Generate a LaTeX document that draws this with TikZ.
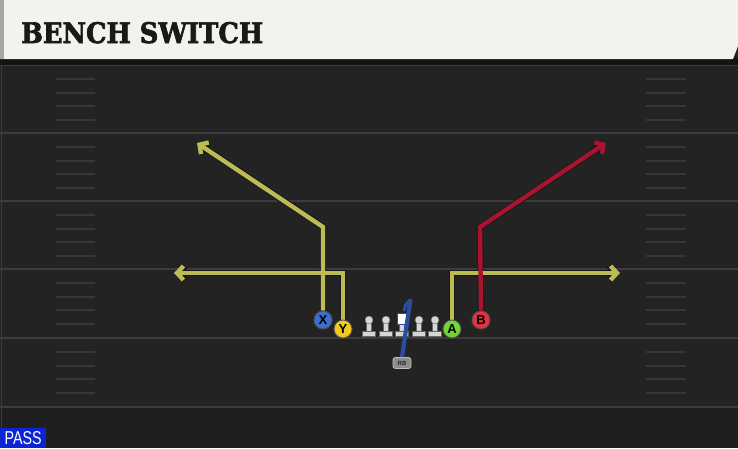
\documentclass[tikz,border=0pt]{standalone}
\usepackage{fontspec}
\setmainfont{DejaVu Serif}
\setsansfont{Liberation Sans}
\newfontfamily\titlefont[FakeBold=2.5]{DejaVu Serif}
\usetikzlibrary{arrows.meta}
\definecolor{fieldbg}{HTML}{232323}
\definecolor{fieldlow}{HTML}{1F1F1F}
\definecolor{majorline}{HTML}{3C3C3C}
\definecolor{hashc}{HTML}{363636}
\definecolor{cream}{HTML}{F4F2EC}
\definecolor{olive}{HTML}{BDBB55}
\definecolor{routered}{HTML}{A8142F}
\definecolor{rbblue}{HTML}{2A4E9E}
\definecolor{xblue}{HTML}{3C6ED0}
\definecolor{yyellow}{HTML}{F3C81F}
\definecolor{agreen}{HTML}{72D534}
\definecolor{bred}{HTML}{E0333F}
\definecolor{linegray}{HTML}{D6D6D6}
\definecolor{passblue}{HTML}{0A24D6}
\tikzset{
  player/.style={circle, minimum size=18pt, inner sep=0pt, draw=black!70, line width=0.8pt,
    font=\sffamily\bfseries\fontsize{13}{13}\selectfont, text=black},
  outl/.style={draw=black!90, line width=6.4pt},
  olroute/.style={draw=olive, line width=4.4pt},
  rdroute/.style={draw=routered, line width=4.4pt},
  tip/.style={-{Straight Barb[length=6.5pt,width=14pt,line join=miter]}},
  hash/.style={draw=hashc, line width=1.8pt},
  major/.style={draw=majorline, line width=2.2pt},
  lineman/.style={fill=linegray, draw=black!60, line width=0.4pt}
}
\begin{document}
\begin{tikzpicture}[x=1pt,y=-1pt]
\useasboundingbox (0,0) rectangle (738,448);
% field
\fill[fieldbg] (0,0) rectangle (738,448);
\fill[fieldlow] (0,408) rectangle (738,448);
\draw[majorline, line width=0.8pt] (1.5,60) -- (1.5,448);
\foreach \y in {65,133,201,269,338,407} {\draw[major] (0,\y) -- (738,\y);}
\foreach \b in {65,133,201,269,338} {
  \foreach \o in {14,28,41,55} {
    \draw[hash] (56,\b+\o) -- (95,\b+\o);
    \draw[hash] (646,\b+\o) -- (686,\b+\o);
  }
}
% title bar
\fill[black!92] (0,58) rectangle (738,65);
\fill[cream] (0,0) -- (738,0) -- (738,46) -- (733,59) -- (0,59) -- cycle;
\fill[black!35] (0,0) rectangle (4,59);
\node[anchor=base west, inner sep=0pt, text=black!90] (title) at (21,43)
  {\resizebox{242pt}{21pt}{\titlefont\bfseries BENCH SWITCH}};
% coordinates
\coordinate (Xc) at (323,227);
\coordinate (Xe) at (197,143);
\coordinate (Yc) at (343,273);
\coordinate (Ye) at (174,273);
\coordinate (Ac) at (452,273);
\coordinate (Ae) at (620,273);
\coordinate (Bc) at (480,227);
\coordinate (Be) at (606,143);
\coordinate (RBe) at (410.5,299);
% players (positions)
\node[player, fill=xblue] (X) at (323,320) {X};
\node[player, fill=yyellow] (Y) at (343,329) {Y};
\node[player, fill=agreen] (A) at (452,329) {A};
\node[player, fill=bred] (B) at (481,320) {B};
\node[fill=black!45, draw=black!25, line width=0.8pt, rounded corners=2.5pt, minimum width=18pt, minimum height=11pt, inner sep=0pt,
  font=\sffamily\bfseries\fontsize{6}{6}\selectfont, text=black!85] (RB) at (402,363) {RB};
% routes: outlines first
\draw[outl, tip] (X.north) -- (Xc) -- (Xe);
\draw[outl, tip] (Y.north) -- (Yc) -- (Ye);
\draw[outl, tip] (A.north) -- (Ac) -- (Ae);
\draw[outl, tip] (B.north) -- (Bc) -- (Be);
\draw[olroute, tip] (X.north) -- (Xc) -- (Xe);
\draw[olroute, tip] (Y.north) -- (Yc) -- (Ye);
\draw[olroute, tip] (A.north) -- (Ac) -- (Ae);
\draw[rdroute, tip] (B.north) -- (Bc) -- (Be);
% redraw players above routes
\node[player, fill=xblue] at (X) {X};
\node[player, fill=yyellow] at (Y) {Y};
\node[player, fill=agreen] at (A) {A};
\node[player, fill=bred] at (B) {B};
% linemen
\foreach \x/\n in {369/L1,386/L2,419/L4,435/L5} {
  \fill[lineman] (\x-6.5,331) rectangle (\x+6.5,336);
  \fill[lineman] (\x-2.5,322) rectangle (\x+2.5,331);
  \node[circle, lineman, minimum size=8pt, inner sep=0pt] (\n) at (\x,320) {};
}
\fill[lineman] (402-6.5,331) rectangle (402+6.5,336);
\fill[lineman] (402-2.5,322) rectangle (402+2.5,331);
\node[fill=white, draw=rbblue, line width=0.6pt, minimum width=10pt, minimum height=11pt, inner sep=0pt] (C) at (402,318.5) {};
% RB route
\draw[rbblue, line width=4.2pt] (RB.north) -- (RBe);
\draw[rbblue, line width=3pt] (404,311) -- (405.5,305) -- (410,300);
% pass tag
\node[fill=passblue, text=white, anchor=south west, inner sep=0pt, minimum width=46pt, minimum height=20pt] (pass) at (0,448)
  {\resizebox{37pt}{13pt}{\sffamily PASS}};
\end{tikzpicture}
\end{document}
